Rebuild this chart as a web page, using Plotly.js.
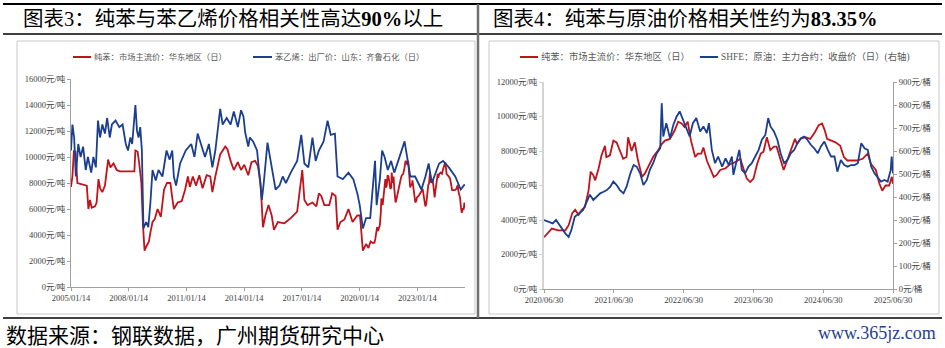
<!DOCTYPE html>
<html>
<head>
<meta charset="utf-8">
<script src="https://cdn.plot.ly/plotly-3.0.1.min.js"></script>
<style>html,body{margin:0;padding:0;background:#fff;}#chart{width:945px;height:348px;}</style>
</head>
<body>
<div id="chart"></div>
<script>
// ---------- Chart 3: benzene vs styrene (2005-2025) ----------
var benzeneHistDates = ["2005-01-14","2005-02-10","2005-03-10","2005-04-10","2005-05-15","2005-08-01","2005-11-10","2005-12-10","2006-01-10","2006-02-10","2006-04-15","2006-05-15","2006-06-01","2006-06-20","2006-07-20","2006-09-01","2006-10-20","2006-12-20","2007-02-01","2007-04-01","2007-06-01","2007-08-01","2008-01-01","2008-05-01","2008-05-20","2008-07-01","2008-08-01","2008-09-10","2008-10-10","2008-11-10","2008-12-10","2009-02-01","2009-03-01","2009-04-10","2009-05-20","2009-07-15","2009-09-15","2009-11-15","2010-01-10","2010-03-15","2010-04-15","2010-05-20","2010-08-01","2010-10-15","2010-12-20","2011-02-10","2011-03-20","2011-05-15","2011-07-15","2011-09-15","2011-11-15","2012-02-01","2012-04-10","2012-05-20","2012-07-15","2012-10-15","2013-01-20","2013-03-01","2013-05-01","2013-07-01","2013-09-15","2013-11-15","2014-01-15","2014-04-01","2014-06-01","2014-08-10","2014-10-01","2014-11-20","2015-01-05","2015-02-20","2015-04-20","2015-06-20","2015-08-01","2015-10-15","2016-02-15","2016-06-15","2016-10-15","2016-12-20","2017-01-20","2017-03-01","2017-05-01","2017-08-01","2017-10-15","2017-12-01","2018-01-15","2018-03-15","2018-06-15","2018-08-10","2018-10-15","2018-11-20","2019-01-15","2019-04-01","2019-06-15","2019-09-01","2019-12-01","2020-01-20","2020-03-15","2020-05-15"];
var benzeneHistValues = [7700,8500,10500,10400,8000,7900,7800,6000,6700,6100,6200,6500,7500,8300,7600,7300,7800,9800,9200,9500,9000,8900,8900,8900,10500,10400,9500,8000,4800,2800,3100,3500,4200,5000,5200,6000,5400,7500,8000,8000,7000,6000,6500,6600,7500,8500,7700,8500,7800,8600,7600,8600,8500,7300,8500,10200,10800,10600,9700,9000,9600,9000,9400,8600,9600,9700,9300,8000,4600,5500,6300,5500,4400,5000,4900,5300,5800,8000,9000,6700,6300,6500,6200,7200,7000,6300,6300,7200,7000,4400,5000,5200,6000,5000,5500,5500,2800,3300];

var styreneDates = ["2005-01-14","2005-02-10","2005-03-15","2005-04-15","2005-06-01","2005-07-15","2005-09-01","2005-10-20","2005-12-01","2006-02-01","2006-03-15","2006-05-01","2006-06-10","2006-07-20","2006-09-01","2006-10-20","2006-12-01","2007-01-20","2007-03-01","2007-05-10","2007-07-20","2007-09-20","2007-11-20","2008-01-01","2008-02-15","2008-03-20","2008-05-20","2008-06-20","2008-07-20","2008-08-20","2008-09-20","2008-10-20","2008-12-10","2009-01-20","2009-03-01","2009-04-10","2009-06-10","2009-08-01","2009-10-15","2010-01-01","2010-03-01","2010-04-20","2010-05-20","2010-07-01","2010-09-15","2011-01-01","2011-04-15","2011-06-15","2011-08-15","2011-10-15","2012-01-01","2012-03-15","2012-05-20","2012-07-15","2012-10-15","2012-12-01","2013-02-15","2013-05-01","2013-07-01","2013-09-15","2013-11-15","2014-01-01","2014-02-01","2014-04-01","2014-05-01","2014-07-01","2014-09-15","2014-12-15","2015-01-20","2015-04-01","2015-06-01","2015-09-01","2015-11-15","2016-01-15","2016-03-15","2016-06-15","2016-10-15","2017-01-01","2017-03-01","2017-05-15","2017-08-01","2017-10-01","2017-12-01","2018-03-01","2018-05-15","2018-07-15","2018-10-01","2018-11-20","2019-03-01","2019-06-15","2019-09-15","2019-12-01","2020-01-15","2020-03-15","2020-05-15","2020-08-01","2020-11-01","2020-12-01","2021-02-01","2021-03-15","2021-05-01","2021-07-01","2021-09-01","2021-11-01","2022-01-15","2022-05-15","2022-07-15","2022-09-01","2022-12-01","2023-04-01","2023-06-15","2023-08-15","2023-10-15","2024-03-01","2024-05-15","2024-09-01","2025-01-01","2025-04-15","2025-06-30"];
var styreneValues = [10500,12500,11500,8500,11000,10000,10800,9000,10000,8800,10000,9200,12800,11500,12500,11800,13000,11500,12500,12800,12300,12500,11000,10500,11500,11000,14000,12000,11500,12300,10500,4500,5000,4600,6500,9000,8200,9000,8500,10500,9800,10500,8500,7800,9500,10500,11000,10000,11800,11000,10000,11000,9200,10500,13700,12500,13000,12500,13500,12300,13600,13100,11900,10800,11500,11200,10500,6700,8000,11100,9700,7500,7800,8500,8000,8800,9700,11700,9500,9200,11500,9700,10500,11200,12800,11700,11800,8500,8300,8800,8300,7200,6300,4500,5300,5300,9700,6300,8300,10500,10000,9000,9700,8800,9700,11200,9700,8500,8500,7500,8500,9500,8000,9500,9700,9200,8500,7500,7900];

var chart3TickVals = ["2005-01-14","2008-01-14","2011-01-14","2014-01-14","2017-01-14","2020-01-14","2023-01-14"];
var chart3TickText = ["2005/01/14","2008/01/14","2011/01/14","2014/01/14","2017/01/14","2020/01/14","2023/01/14"];

// ---------- Chart 4: benzene vs SHFE crude (2020-2025) ----------
var benzeneRecentDates = ["2020-06-30","2020-07-22","2020-08-10","2020-09-12","2020-10-20","2020-11-06","2020-11-25","2020-12-10","2020-12-28","2021-01-15","2021-01-30","2021-02-18","2021-03-01","2021-03-15","2021-03-25","2021-04-12","2021-04-27","2021-05-15","2021-05-22","2021-06-10","2021-06-28","2021-07-15","2021-08-01","2021-08-18","2021-09-05","2021-09-13","2021-10-01","2021-10-18","2021-11-02","2021-11-25","2021-12-10","2022-01-05","2022-01-22","2022-02-18","2022-03-08","2022-03-25","2022-04-20","2022-05-15","2022-06-02","2022-06-20","2022-07-05","2022-07-22","2022-08-08","2022-08-30","2022-09-13","2022-10-01","2022-10-12","2022-10-30","2022-11-18","2022-12-05","2022-12-20","2023-01-08","2023-02-05","2023-03-03","2023-03-28","2023-04-23","2023-05-12","2023-05-27","2023-06-14","2023-07-01","2023-07-20","2023-08-08","2023-08-22","2023-09-09","2023-09-27","2023-10-16","2023-10-30","2023-11-17","2023-12-06","2023-12-24","2024-01-12","2024-02-03","2024-02-14","2024-03-03","2024-03-28","2024-04-23","2024-05-18","2024-06-06","2024-06-24","2024-07-08","2024-07-20","2024-08-08","2024-09-02","2024-09-27","2024-10-16","2024-11-03","2024-11-28","2024-12-24","2025-01-22","2025-02-17","2025-03-07","2025-04-01","2025-04-20","2025-05-05","2025-05-22","2025-06-10","2025-06-24","2025-06-30"];
var benzeneRecentValues = [3000,3300,3500,3400,3400,3700,4400,4600,4300,4600,4750,5700,6800,6600,6300,7000,7750,8300,7650,7750,8600,8500,8000,7550,7650,8800,8000,8500,7550,6500,6700,7250,7650,8050,8400,8600,8700,9200,9700,9600,9400,9700,8600,7650,7850,7850,8200,7450,6900,6500,6600,6900,7000,7250,7350,7550,6900,6400,6200,6400,7250,7850,7950,8800,8050,8250,8250,7650,6900,7450,8050,8700,8400,8700,8800,8700,9100,9500,9600,9200,8700,8600,8500,8300,7650,7450,7450,7450,7550,7850,7250,6900,6100,5700,6000,6000,6500,6100];

var crudeDates = ["2020-06-30","2020-07-22","2020-08-15","2020-09-01","2020-09-25","2020-10-20","2020-11-06","2020-11-20","2020-12-08","2020-12-28","2021-01-20","2021-02-05","2021-02-25","2021-03-15","2021-04-01","2021-04-20","2021-05-08","2021-05-25","2021-06-12","2021-06-28","2021-07-15","2021-08-01","2021-08-20","2021-09-05","2021-09-25","2021-10-12","2021-10-28","2021-11-15","2021-12-02","2021-12-20","2022-01-05","2022-01-22","2022-02-10","2022-02-28","2022-03-08","2022-03-16","2022-04-01","2022-04-20","2022-05-08","2022-05-25","2022-06-10","2022-06-28","2022-07-15","2022-08-01","2022-08-18","2022-09-05","2022-09-25","2022-10-12","2022-10-30","2022-11-10","2022-11-25","2022-12-12","2022-12-28","2023-01-18","2023-02-05","2023-02-22","2023-03-10","2023-03-18","2023-04-05","2023-04-18","2023-05-01","2023-05-18","2023-06-05","2023-06-22","2023-07-10","2023-07-28","2023-08-14","2023-09-01","2023-09-16","2023-09-28","2023-10-16","2023-11-03","2023-11-20","2023-12-08","2023-12-26","2024-01-12","2024-01-30","2024-02-16","2024-03-05","2024-03-22","2024-04-08","2024-04-26","2024-05-14","2024-06-01","2024-06-18","2024-07-06","2024-07-24","2024-08-10","2024-08-28","2024-09-12","2024-09-30","2024-10-18","2024-11-05","2024-11-22","2024-12-10","2024-12-28","2025-01-15","2025-02-01","2025-02-18","2025-03-08","2025-03-25","2025-04-12","2025-04-28","2025-05-16","2025-06-02","2025-06-18","2025-06-23","2025-06-30"];
var crudeValues = [300,292,285,300,270,241,227,256,314,329,343,372,410,387,401,416,423,430,445,467,452,430,416,445,503,539,532,503,452,474,518,547,590,612,808,663,721,656,714,750,772,736,699,663,721,743,685,707,678,721,605,547,576,532,568,539,576,496,561,605,518,503,532,547,576,605,649,670,743,707,685,649,590,547,561,590,605,634,656,663,649,627,612,590,620,641,605,576,576,510,561,539,532,539,539,547,634,612,605,532,503,481,467,474,467,518,576,503];

var chart4TickVals = ["2020-06-30","2021-06-30","2022-06-30","2023-06-30","2024-06-30","2025-06-30"];
var chart4TickText = ["2020/06/30","2021/06/30","2022/06/30","2023/06/30","2024/06/30","2025/06/30"];

var seriesNames = ["纯苯：市场主流价：华东地区（日）","苯乙烯：出厂价：山东：齐鲁石化（日）","纯苯：市场主流价：华东地区（日）","SHFE：原油：主力合约：收盘价（日）(右轴)"];
var titles = ["图表3：纯苯与苯乙烯价格相关性高达<b>90%</b>以上","图表4：纯苯与原油价格相关性约为<b>83.35%</b>"];
var footerText = "数据来源：钢联数据，广州期货研究中心";
var siteText = "www.365jz.com";

// ---------- build ----------
var W = 945, H = 348;
function px(x){return x/W;}
function py(y){return 1 - y/H;}
var RED = "#C0131C", BLUE = "#1B3F8E";
var FONT = "'Liberation Serif','Noto Sans CJK SC',serif";
var CJK = "'Noto Sans CJK SC','Liberation Serif',sans-serif";

var benzeneAllDates = benzeneHistDates.concat(benzeneRecentDates);
var benzeneAllValues = benzeneHistValues.concat(benzeneRecentValues);

var traces = [
  {x: benzeneAllDates, y: benzeneAllValues, type:"scatter", mode:"lines", line:{color:RED,width:1.8}, xaxis:"x", yaxis:"y", name:seriesNames[0]},
  {x: styreneDates, y: styreneValues, type:"scatter", mode:"lines", line:{color:BLUE,width:1.8}, xaxis:"x", yaxis:"y", name:seriesNames[1]},
  {x: benzeneRecentDates, y: benzeneRecentValues, type:"scatter", mode:"lines", line:{color:RED,width:1.8}, xaxis:"x2", yaxis:"y2", name:seriesNames[2]},
  {x: crudeDates, y: crudeValues, type:"scatter", mode:"lines", line:{color:BLUE,width:1.8}, xaxis:"x2", yaxis:"y3", name:seriesNames[3]}
];

var tickFont = {family: FONT, size: 8.5, color: "#404040"};

var layout = {
  width: W, height: H,
  margin: {l:0, r:0, t:0, b:0, pad:0},
  paper_bgcolor: "#fff", plot_bgcolor: "#fff",
  showlegend: false,
  xaxis: {domain:[px(71), px(465)], type:"date", range:["2005-01-14","2025-07-05"],
    tickmode:"array", tickvals: chart3TickVals, ticktext: chart3TickText,
    showgrid:false, zeroline:false, showline:true, linecolor:"#a0a0a0", linewidth:1,
    ticks:"outside", ticklen:3, tickcolor:"#a0a0a0", tickfont: tickFont, anchor:"y"},
  yaxis: {domain:[py(287), py(79)], range:[0,16000], dtick:2000, tickformat:"d", ticksuffix:"元/吨",
    showgrid:false, zeroline:false, showline:true, linecolor:"#a0a0a0", linewidth:1,
    ticks:"outside", ticklen:3, tickcolor:"#a0a0a0", tickfont: tickFont, anchor:"x"},
  xaxis2: {domain:[px(544), px(893)], type:"date", range:["2020-06-30","2025-06-30"],
    tickmode:"array", tickvals: chart4TickVals, ticktext: chart4TickText,
    showgrid:false, zeroline:false, showline:true, linecolor:"#a0a0a0", linewidth:1,
    ticks:"outside", ticklen:3, tickcolor:"#a0a0a0", tickfont: tickFont, anchor:"y2"},
  yaxis2: {domain:[py(289), py(82)], range:[0,12000], dtick:2000, tickformat:"d", ticksuffix:"元/吨",
    showgrid:false, zeroline:false, showline:true, linecolor:"#d4d4d4", linewidth:2,
    ticks:"outside", ticklen:3, tickcolor:"#d4d4d4", tickfont: tickFont, anchor:"x2"},
  yaxis3: {domain:[py(289), py(82)], range:[0,900], dtick:100, tickformat:"d", ticksuffix:"元/桶",
    overlaying:"y2", side:"right", anchor:"x2",
    showgrid:false, zeroline:false, showline:true, linecolor:"#a0a0a0", linewidth:1,
    ticks:"outside", ticklen:3, tickcolor:"#a0a0a0", tickfont: tickFont},
  shapes: [
    {type:"line", xref:"paper", yref:"paper", x0:px(3), x1:px(942), y0:py(4), y1:py(4), line:{color:"#000", width:2}},
    {type:"line", xref:"paper", yref:"paper", x0:px(3), x1:px(942), y0:py(34), y1:py(34), line:{color:"#000", width:1.5}},
    {type:"line", xref:"paper", yref:"paper", x0:px(3), x1:px(942), y0:py(318), y1:py(318), line:{color:"#000", width:1.5}},
    {type:"line", xref:"paper", yref:"paper", x0:px(478), x1:px(478), y0:py(4), y1:py(318), line:{color:"#707070", width:2.5}},
    {type:"rect", xref:"paper", yref:"paper", x0:px(17), x1:px(475), y0:py(41), y1:py(314), line:{color:"#c8c8c8", width:1}},
    {type:"rect", xref:"paper", yref:"paper", x0:px(489), x1:px(939), y0:py(41), y1:py(314), line:{color:"#c8c8c8", width:1}},
    {type:"line", xref:"paper", yref:"paper", x0:px(73), x1:px(91), y0:py(57), y1:py(57), line:{color:RED, width:2}},
    {type:"line", xref:"paper", yref:"paper", x0:px(253), x1:px(272), y0:py(57), y1:py(57), line:{color:BLUE, width:2}},
    {type:"line", xref:"paper", yref:"paper", x0:px(520), x1:px(538), y0:py(57), y1:py(57), line:{color:RED, width:2}},
    {type:"line", xref:"paper", yref:"paper", x0:px(700), x1:px(718), y0:py(57), y1:py(57), line:{color:BLUE, width:2}}
  ],
  annotations: [
    {xref:"paper", yref:"paper", x:px(21), y:py(19), xanchor:"left", yanchor:"middle", showarrow:false, text:titles[0], font:{family:FONT, size:20.5, color:"#000"}},
    {xref:"paper", yref:"paper", x:px(491), y:py(19), xanchor:"left", yanchor:"middle", showarrow:false, text:titles[1], font:{family:FONT, size:20.5, color:"#000"}},
    {xref:"paper", yref:"paper", x:px(92), y:py(57), xanchor:"left", yanchor:"middle", showarrow:false, text:seriesNames[0], font:{family:FONT, size:8.3, color:"#595959"}},
    {xref:"paper", yref:"paper", x:px(273), y:py(57), xanchor:"left", yanchor:"middle", showarrow:false, text:seriesNames[1], font:{family:FONT, size:8.3, color:"#595959"}},
    {xref:"paper", yref:"paper", x:px(539), y:py(57), xanchor:"left", yanchor:"middle", showarrow:false, text:seriesNames[2], font:{family:FONT, size:9.3, color:"#595959"}},
    {xref:"paper", yref:"paper", x:px(719), y:py(57), xanchor:"left", yanchor:"middle", showarrow:false, text:seriesNames[3], font:{family:FONT, size:9.4, color:"#595959"}},
    {xref:"paper", yref:"paper", x:px(4), y:py(334), xanchor:"left", yanchor:"middle", showarrow:false, text:footerText, font:{family:CJK, size:21, color:"#000"}},
    {xref:"paper", yref:"paper", x:px(938), y:py(333), xanchor:"right", yanchor:"middle", showarrow:false, text:siteText, font:{family:"'Liberation Serif',serif", size:18, color:"#1F3F8F"}}
  ]
};

Plotly.newPlot("chart", traces, layout, {displayModeBar:false, staticPlot:true});
</script>
</body>
</html>
